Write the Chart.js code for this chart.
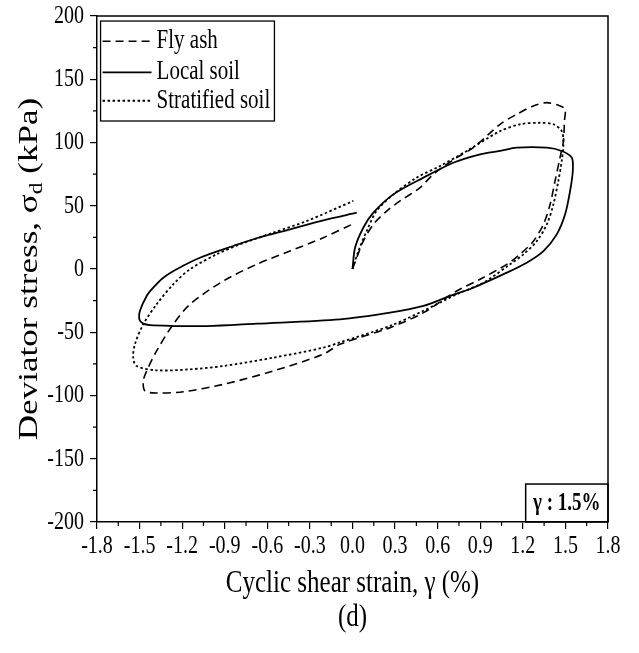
<!DOCTYPE html>
<html><head><meta charset="utf-8">
<script src="https://cdn.jsdelivr.net/npm/chart.js@4.4.1/dist/chart.umd.min.js"></script>
<style>html,body{margin:0;padding:0;background:#fff}#wrap{width:639px;height:653px;position:relative}canvas{display:block}</style>
</head><body><div id="wrap"><canvas id="c" width="639" height="653"></canvas></div>
<script>
// ---- data ----
const seriesNames = ['Fly ash', 'Local soil', 'Stratified soil'];

const flyAshX = [0, 0.03, 0.076, 0.147, 0.241, 0.335, 0.476, 0.569, 0.734, 0.851, 1.04, 1.157, 1.274, 1.369, 1.462, 1.498, 1.493, 1.486, 1.462, 1.427, 1.392, 1.345, 1.274, 1.18, 1.087, 0.899, 0.734, 0.5, 0.264, -0.088, -0.206, -0.558, -0.91, -1.192, -1.38, -1.462, -1.474, -1.45, -1.38, -1.263, -1.145, -0.91, -0.675, -0.44, -0.206, 0.006];
const flyAshY = [0, 9, 22, 35.3, 45.8, 53.8, 64.3, 74.9, 88, 95.9, 114.4, 122.3, 128.9, 131.5, 128.9, 126.2, 117, 101, 88, 69.6, 51, 35.3, 22, 11.6, 3.7, -8.1, -17.4, -34.5, -46.4, -59.5, -67.4, -80.6, -91.2, -97, -98, -96.4, -88.5, -80.6, -64.8, -43.7, -27.9, -9.5, 3.7, 14.2, 24.7, 35.8];

const localSoilX = [0, 0.018, 0.076, 0.147, 0.288, 0.5, 0.71, 0.899, 1.04, 1.157, 1.369, 1.474, 1.545, 1.552, 1.533, 1.498, 1.439, 1.345, 1.227, 1.087, 0.851, 0.687, 0.5, 0.264, -0.088, -0.675, -1.027, -1.404, -1.474, -1.502, -1.498, -1.45, -1.404, -1.333, -1.239, -1.075, -0.84, -0.675, -0.44, -0.206, 0.03];
const localSoilY = [0, 16.8, 32.6, 44.5, 59, 72.2, 84, 90.7, 93.3, 95.9, 95.9, 93.3, 88, 77.5, 61.7, 43.2, 27.4, 14.2, 5, -2.9, -14.8, -21.3, -29.2, -34.5, -39.8, -43.2, -45.1, -44.5, -43.2, -39.8, -33.2, -21.3, -14.8, -6.9, -0.2, 8.9, 18.2, 24.3, 31.4, 38.5, 44.5];

const stratifiedX = [0, 0.041, 0.1, 0.17, 0.288, 0.452, 0.617, 0.805, 1.04, 1.18, 1.32, 1.415, 1.474, 1.486, 1.474, 1.45, 1.415, 1.369, 1.298, 1.204, 1.11, 0.922, 0.734, 0.5, 0.264, -0.088, -0.206, -0.558, -0.91, -1.145, -1.38, -1.521, -1.545, -1.533, -1.474, -1.38, -1.263, -1.145, -0.957, -0.793, -0.558, -0.323, 0.006];
const stratifiedY = [0, 14, 30, 46, 59, 72.2, 81.4, 93.3, 109, 114.4, 115.6, 114.4, 109, 98.6, 85.4, 69.6, 51, 35.3, 22, 11.6, 3.7, -10.8, -20, -33, -45, -58, -62.2, -70.1, -76.7, -79.3, -80.1, -76.7, -70.1, -59.5, -43.7, -27.9, -12.1, -0.2, 11.6, 19.5, 28.7, 37.9, 53.8];

const xTickValues = [-1.8, -1.5, -1.2, -0.9, -0.6, -0.3, 0.0, 0.3, 0.6, 0.9, 1.2, 1.5, 1.8];
const yTickValues = [-200, -150, -100, -50, 0, 50, 100, 150, 200];
const xTitleText = 'Cyclic shear strain, \u03b3 (%)';
const yTitleMain = 'Deviator stress, \u03c3';
const yTitleSub = 'd';
const yTitleEnd = ' (kPa)';
const annotationText = '\u03b3 : 1.5%';
const panelLabel = '(d)';

// ---- chart ----
const SERIF = '"Liberation Serif", "Times New Roman", serif';
const STRETCH = 1.3; // the reference's lettering is taller than it is wide
const toPts = (xs, ys) => xs.map((x, i) => ({x: x, y: ys[i]}));

const seriesStyle = [
  {dash: [8, 5], width: 1.6},
  {dash: [], width: 1.8},
  {dash: [2.5, 2.5], width: 1.8}
];
const seriesData = [toPts(flyAshX, flyAshY), toPts(localSoilX, localSoilY), toPts(stratifiedX, stratifiedY)];

const datasets = seriesNames.map((n, i) => ({
  label: n,
  data: seriesData[i],
  showLine: true,
  borderColor: '#000',
  backgroundColor: '#000',
  borderWidth: seriesStyle[i].width,
  borderDash: seriesStyle[i].dash,
  pointRadius: 0,
  tension: 0.3,
  fill: false
}));

function tallText(ctx, text, x, y, font, align) {
  ctx.save();
  ctx.font = font;
  ctx.textAlign = align || 'left';
  ctx.textBaseline = 'middle';
  ctx.translate(x, y);
  ctx.scale(1, STRETCH);
  ctx.fillText(text, 0, 0);
  ctx.restore();
}

const decor = {
  id: 'decor',
  afterDraw(chart) {
    const ctx = chart.ctx, a = chart.chartArea;
    const xs = chart.scales.x, ys = chart.scales.y;
    ctx.save();
    ctx.strokeStyle = '#000';
    ctx.fillStyle = '#000';
    // frame top & right
    ctx.lineWidth = 1.5;
    ctx.beginPath();
    ctx.moveTo(a.left, a.top); ctx.lineTo(a.right, a.top); ctx.lineTo(a.right, a.bottom);
    ctx.stroke();
    // minor ticks
    ctx.lineWidth = 1.2;
    ctx.beginPath();
    for (let i = 0; i < yTickValues.length - 1; i++) {
      const p = ys.getPixelForValue((yTickValues[i] + yTickValues[i + 1]) / 2);
      ctx.moveTo(a.left, p); ctx.lineTo(a.left - 4, p);
    }
    for (let i = 0; i < xTickValues.length - 1; i++) {
      const p = xs.getPixelForValue((xTickValues[i] + xTickValues[i + 1]) / 2);
      ctx.moveTo(p, a.bottom); ctx.lineTo(p, a.bottom + 4);
    }
    ctx.stroke();

    // tick labels (placed through the scales)
    const tickFont = '20px ' + SERIF;
    xs.ticks.forEach((t, i) => {
      tallText(ctx, Number(t.value).toFixed(1), xs.getPixelForTick(i), a.bottom + 24, tickFont, 'center');
    });
    ys.ticks.forEach((t, i) => {
      tallText(ctx, String(t.value), a.left - 13, ys.getPixelForTick(i), tickFont, 'right');
    });

    // legend box
    const lx0 = xs.getPixelForValue(-1.775), lx1 = xs.getPixelForValue(-0.55);
    const ly0 = ys.getPixelForValue(196), ly1 = ys.getPixelForValue(117);
    ctx.fillStyle = '#fff';
    ctx.fillRect(lx0, ly0, lx1 - lx0, ly1 - ly0);
    ctx.lineWidth = 1.3;
    ctx.strokeRect(lx0, ly0, lx1 - lx0, ly1 - ly0);
    ctx.fillStyle = '#000';
    const rowsY = [180, 155.5, 133].map(v => ys.getPixelForValue(v));
    chart.data.datasets.forEach((ds, i) => {
      const y = rowsY[i];
      ctx.save();
      ctx.lineWidth = ds.borderWidth;
      ctx.setLineDash(ds.borderDash);
      ctx.beginPath();
      ctx.moveTo(lx0 + 2, y); ctx.lineTo(lx0 + 51, y);
      ctx.stroke();
      ctx.restore();
      tallText(ctx, ds.label, lx0 + 56, y, '21px ' + SERIF, 'left');
    });

    // annotation box
    const bx0 = xs.getPixelForValue(1.22), bx1 = a.right;
    const by0 = ys.getPixelForValue(-170), by1 = a.bottom;
    ctx.lineWidth = 1.5;
    ctx.strokeRect(bx0, by0, bx1 - bx0, by1 - by0);
    tallText(ctx, annotationText, (bx0 + bx1) / 2, (by0 + by1) / 2 + 1, 'bold 19px ' + SERIF, 'center');

    // x title and panel label
    const cx = (a.left + a.right) / 2;
    tallText(ctx, xTitleText, cx, 583, '25px ' + SERIF, 'center');
    tallText(ctx, panelLabel, cx, 617, '25px ' + SERIF, 'center');

    // y title (rotated, with subscript); stretched along its length
    ctx.save();
    ctx.translate(30, (a.top + a.bottom) / 2);
    ctx.rotate(-Math.PI / 2);
    ctx.scale(STRETCH, 1);
    const fMain = '27px ' + SERIF, fSub = '18px ' + SERIF;
    ctx.font = fMain;
    const w1 = ctx.measureText(yTitleMain).width;
    const w3 = ctx.measureText(yTitleEnd).width;
    ctx.font = fSub;
    const w2 = ctx.measureText(yTitleSub).width;
    let x = -(w1 + w2 + w3) / 2;
    ctx.textAlign = 'left';
    ctx.textBaseline = 'middle';
    ctx.font = fMain;
    ctx.fillText(yTitleMain, x, 0); x += w1;
    ctx.font = fSub;
    ctx.fillText(yTitleSub, x, 7); x += w2;
    ctx.font = fMain;
    ctx.fillText(yTitleEnd, x, 0);
    ctx.restore();

    ctx.restore();
  }
};

new Chart(document.getElementById('c'), {
  type: 'scatter',
  data: {datasets},
  options: {
    responsive: false,
    devicePixelRatio: 1,
    animation: false,
    layout: {autoPadding: false, padding: {top: 16, right: 31, left: 0, bottom: 0}},
    plugins: {legend: {display: false}, tooltip: {enabled: false}},
    scales: {
      x: {
        type: 'linear', min: -1.8, max: 1.8,
        afterFit(s) { s.height = 131; },
        afterBuildTicks(s) { s.ticks = xTickValues.map(v => ({value: v})); },
        grid: {drawOnChartArea: false, drawTicks: true, tickLength: 7, color: '#000', lineWidth: 1.2},
        border: {display: true, color: '#000', width: 1.5},
        ticks: {display: false, autoSkip: false}
      },
      y: {
        type: 'linear', min: -200, max: 200,
        afterFit(s) { s.width = 97; },
        afterBuildTicks(s) { s.ticks = yTickValues.map(v => ({value: v})); },
        grid: {drawOnChartArea: false, drawTicks: true, tickLength: 7, color: '#000', lineWidth: 1.2},
        border: {display: true, color: '#000', width: 1.5},
        ticks: {display: false, autoSkip: false}
      }
    }
  },
  plugins: [decor]
});
</script>
</body></html>
